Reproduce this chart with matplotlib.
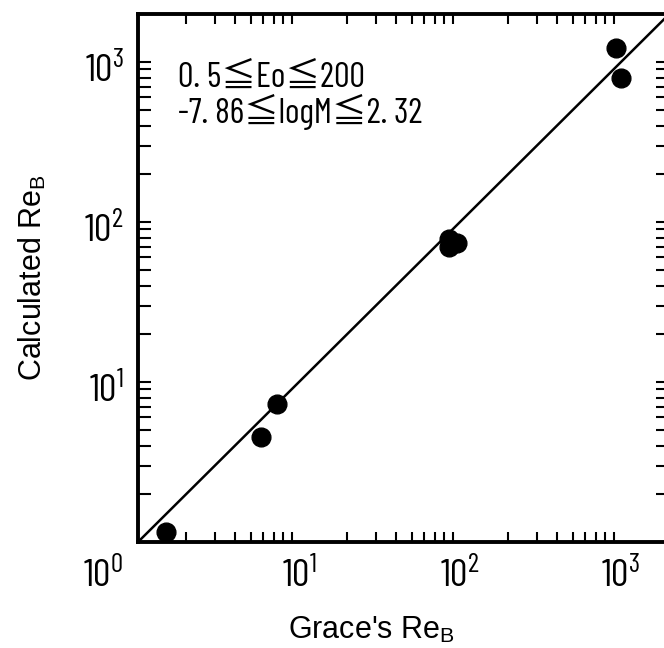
import matplotlib
matplotlib.use("Agg")
import matplotlib.pyplot as plt
from matplotlib.ticker import LogLocator, NullFormatter, FixedLocator
from matplotlib.transforms import ScaledTranslation

# ---------------- data ----------------
grace_re = [1.5, 5.8, 7.3, 86, 96, 85, 930, 1000]
calc_re = [1.16, 4.5, 7.3, 78, 74, 70, 1220, 790]
line_range = [1.0, 2000.0]
x_tick_vals = [1, 10, 100, 1000]
x_tick_labels = [r"$\mathrm{10^{0}}$", r"$\mathrm{10^{1}}$",
                 r"$\mathrm{10^{2}}$", r"$\mathrm{10^{3}}$"]
y_tick_vals = [10, 100, 1000]
y_tick_labels = [r"$\mathrm{10^{1}}$", r"$\mathrm{10^{2}}$",
                 r"$\mathrm{10^{3}}$"]
annot_lines = ["0. 5≦Eo≦200", "-7. 86≦logM≦2. 32"]
xlabel = r"Grace's Re$_\mathsf{B}$"
ylabel = r"Calculated Re$_\mathsf{B}$"

# ---------------- style ----------------
plt.rcParams['mathtext.fontset'] = 'custom'
plt.rcParams['mathtext.rm'] = 'Barlow Condensed'
plt.rcParams['mathtext.it'] = 'Barlow Condensed:italic'
plt.rcParams['mathtext.bf'] = 'Barlow Condensed:bold'
plt.rcParams['mathtext.sf'] = 'Liberation Sans'

W, H = 664, 648
fig = plt.figure(figsize=(W / 100, H / 100), dpi=100)
left_px, right_px, top_px, bottom_px = 138, 668, 14, 542
ax = fig.add_axes([left_px / W, 1 - bottom_px / H,
                   (right_px - left_px) / W, (bottom_px - top_px) / H])
ax.set_xscale('log')
ax.set_yscale('log')
ax.set_xlim(1, 10 ** ((right_px - left_px) / 161))
ax.set_ylim(1, 10 ** ((bottom_px - top_px) / 160))

ax.plot(line_range, line_range, color='black', lw=1.8, zorder=2)
ax.plot(grace_re, calc_re, 'o', color='black', ms=13.5, zorder=3)

for s in ax.spines.values():
    s.set_linewidth(2.8)

ax.xaxis.set_major_locator(FixedLocator(x_tick_vals))
ax.yaxis.set_major_locator(FixedLocator(y_tick_vals))
ax.xaxis.set_minor_locator(LogLocator(base=10, subs=range(2, 10), numticks=20))
ax.yaxis.set_minor_locator(LogLocator(base=10, subs=range(2, 10), numticks=20))
ax.xaxis.set_minor_formatter(NullFormatter())
ax.yaxis.set_minor_formatter(NullFormatter())
ax.set_xticks(x_tick_vals, x_tick_labels)
ax.set_yticks(y_tick_vals, y_tick_labels)

ax.tick_params(which='both', direction='in', top=True, right=True, width=1.5,
               colors='black')
ax.tick_params(axis='x', which='major', length=0, pad=11, labelsize=28)
ax.tick_params(axis='x', which='minor', length=7)
ax.tick_params(axis='y', which='major', length=9, pad=10, labelsize=28)
ax.tick_params(axis='y', which='minor', length=9)

# label offsets as in the original
for lab in ax.get_xticklabels():
    if lab.get_text() == x_tick_labels[0]:
        lab.set_transform(lab.get_transform() +
                          ScaledTranslation(-0.35, 0, fig.dpi_scale_trans))
for lab in ax.get_yticklabels():
    lab.set_transform(lab.get_transform() +
                      ScaledTranslation(0, -0.05, fig.dpi_scale_trans))

ax.set_xlabel(xlabel, fontsize=22, family='Liberation Sans')
ax.xaxis.label.set(ha='center', va='center')
ax.xaxis.set_label_coords((371 - left_px) / (right_px - left_px),
                          (bottom_px - 630) / (bottom_px - top_px))
ax.set_ylabel(ylabel, fontsize=22, family='Liberation Sans')
ax.yaxis.label.set(ha='center', va='center')
ax.yaxis.set_label_coords((32 - left_px) / (right_px - left_px), 0.5)

ax.text((178 - left_px) / (right_px - left_px), (bottom_px - 78) / (bottom_px - top_px),
        annot_lines[0], transform=ax.transAxes, ha='left', va='center',
        fontsize=25, family=['Barlow Condensed', 'Noto Sans CJK JP', 'DejaVu Sans'])
ax.text((178 - left_px) / (right_px - left_px), (bottom_px - 112) / (bottom_px - top_px),
        annot_lines[1], transform=ax.transAxes, ha='left', va='center',
        fontsize=25, family=['Barlow Condensed', 'Noto Sans CJK JP', 'DejaVu Sans'])

fig.savefig("out.png", dpi=100)
